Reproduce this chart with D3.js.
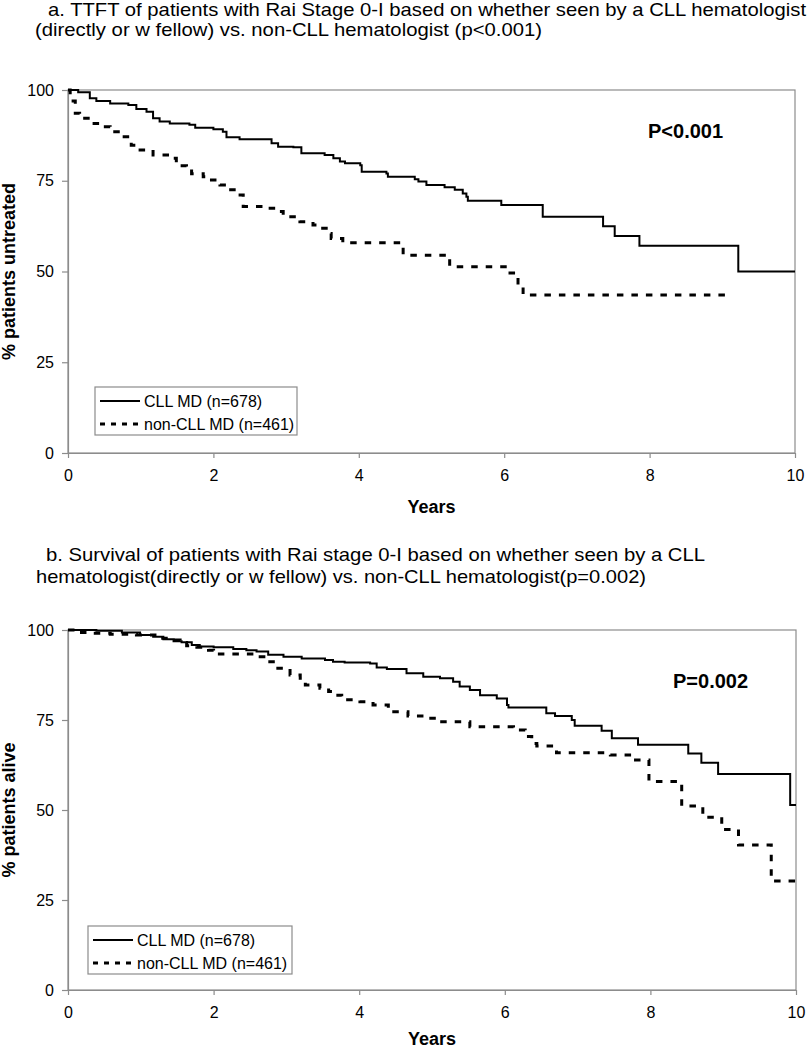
<!DOCTYPE html>
<html>
<head>
<meta charset="utf-8">
<script src="https://cdn.jsdelivr.net/npm/d3@7"></script>
<style>
  body { margin: 0; background: #fff; }
  svg { display: block; font-family: "Liberation Sans", Arial, sans-serif; }
</style>
</head>
<body>
<svg id="chart" width="810" height="1050"></svg>
<script>
// panel a: time to first treatment
const ttftCllTime = [0, 0.14, 0.3, 0.39, 0.58, 0.83, 0.94, 1.08, 1.17, 1.26, 1.4, 1.67, 1.75, 2.0, 2.13, 2.18, 2.36, 2.8, 2.89, 3.1, 3.21, 3.53, 3.65, 3.74, 3.81, 4.02, 4.04, 4.38, 4.4, 4.77, 4.82, 4.93, 5.18, 5.32, 5.43, 5.48, 5.5, 5.96, 6.53, 7.36, 7.52, 7.86, 9.22, 10];
const ttftCllValue = [100, 99.4, 97.7, 97.0, 96.3, 95.9, 94.8, 94.0, 92.2, 91.3, 90.8, 90.4, 89.6, 89.2, 88.5, 87.0, 86.4, 85.3, 84.4, 84.2, 82.6, 82.1, 81.2, 80.3, 79.8, 79.3, 77.5, 77.0, 76.1, 75.4, 74.8, 73.8, 73.2, 72.5, 71.5, 70.6, 69.5, 68.3, 65.1, 62.5, 59.8, 57.1, 50.0, 50.0];
const ttftNonTime = [0, 0.03, 0.1, 0.16, 0.3, 0.44, 0.58, 0.74, 0.87, 0.94, 1.17, 1.45, 1.49, 1.63, 1.7, 1.86, 1.95, 2.09, 2.18, 2.32, 2.41, 2.73, 2.87, 2.96, 3.19, 3.37, 3.46, 3.58, 3.62, 3.78, 4.61, 5.25, 6.08, 6.19, 6.26, 9.1];
const ttftNonValue = [100, 97.0, 93.6, 92.2, 90.8, 89.9, 88.5, 87.1, 84.8, 83.5, 82.1, 81.2, 79.1, 78.9, 76.9, 76.1, 75.2, 73.8, 72.5, 71.1, 67.9, 67.4, 66.5, 65.1, 63.7, 62.8, 61.9, 60.5, 59.1, 57.9, 54.5, 51.3, 49.6, 46.3, 43.5, 43.5];

// panel b: overall survival
const survCllTime = [0, 0.39, 0.74, 0.99, 1.17, 1.31, 1.45, 1.56, 1.7, 1.81, 2.0, 2.27, 2.45, 2.59, 2.75, 2.96, 3.21, 3.53, 3.64, 3.8, 4.15, 4.24, 4.38, 4.65, 4.88, 5.11, 5.29, 5.38, 5.52, 5.66, 5.89, 6.03, 6.05, 6.57, 6.69, 6.92, 6.96, 7.33, 7.47, 7.83, 8.52, 8.7, 8.93, 9.92, 10];
const survCllValue = [100, 99.8, 99.3, 98.6, 98.1, 97.4, 96.9, 96.6, 95.8, 95.4, 95.2, 94.7, 94.4, 94.0, 93.1, 92.6, 92.1, 91.7, 91.2, 91.0, 90.7, 89.6, 89.2, 88.0, 87.0, 86.6, 85.6, 84.3, 83.3, 81.9, 81.0, 79.2, 78.5, 76.9, 76.1, 75.0, 73.4, 72.0, 69.9, 68.1, 65.7, 63.1, 60.0, 51.4, 51.4];
const survNonTime = [0, 0.1, 0.26, 0.58, 0.94, 1.22, 1.4, 1.54, 1.63, 1.77, 1.93, 2.0, 2.64, 2.73, 2.82, 3.05, 3.19, 3.26, 3.46, 3.58, 3.64, 3.76, 4.01, 4.19, 4.4, 4.67, 4.95, 5.11, 5.52, 6.12, 6.28, 6.37, 6.44, 6.71, 7.45, 7.77, 7.98, 8.43, 8.72, 8.98, 9.21, 9.66, 10];
const survNonValue = [100, 99.3, 99.1, 98.8, 98.6, 97.7, 97.2, 96.5, 95.6, 95.2, 94.4, 93.3, 92.6, 91.2, 89.4, 87.5, 86.6, 84.7, 83.8, 82.9, 81.9, 80.6, 80.1, 79.2, 77.3, 76.1, 75.5, 74.5, 73.1, 72.2, 70.4, 68.5, 67.8, 65.9, 65.3, 63.9, 57.9, 51.1, 48.0, 44.6, 40.3, 30.3, 30.3];

const xTicks = [0, 2, 4, 6, 8, 10];
const yTicks = [0, 25, 50, 75, 100];
const legendLabels = ["CLL MD (n=678)", "non-CLL MD (n=461)"];

const svg = d3.select("#chart");

function drawPanel(p) {
    const x = d3.scaleLinear().domain([0, 10]).range([p.left, p.right]);
    const y = d3.scaleLinear().domain([0, 100]).range([p.bottom, p.top]);

    const g = svg.append("g");

    // title lines, stretched to the width they take in the original
    p.title.forEach(t => {
        g.append("text")
            .attr("x", t.x)
            .attr("y", t.y)
            .attr("font-size", "18.5px")
            .attr("fill", "#000")
            .attr("textLength", t.w)
            .attr("lengthAdjust", "spacingAndGlyphs")
            .text(t.text);
    });

    // plot area border
    g.append("rect")
        .attr("x", p.left)
        .attr("y", p.top)
        .attr("width", p.right - p.left)
        .attr("height", p.bottom - p.top)
        .attr("fill", "none")
        .attr("stroke", "#8c8c8c")
        .attr("stroke-width", 1.2);

    const xAxis = g.append("g")
        .attr("transform", `translate(0,${p.bottom})`)
        .call(d3.axisBottom(x).tickValues(xTicks).tickSize(5).tickPadding(12).tickSizeOuter(0));
    const yAxis = g.append("g")
        .attr("transform", `translate(${p.left},0)`)
        .call(d3.axisLeft(y).tickValues(yTicks).tickSize(6).tickPadding(8).tickSizeOuter(0));
    [xAxis, yAxis].forEach(a => {
        a.selectAll("path, line").attr("stroke", "#8c8c8c").attr("stroke-width", 1.2);
        a.selectAll("text").attr("font-size", "16px").attr("fill", "#000")
            .attr("font-family", "Liberation Sans, Arial, sans-serif");
    });

    const line = d3.line()
        .x(d => x(d[0]))
        .y(d => y(d[1]))
        .curve(d3.curveStepAfter);

    g.append("path")
        .datum(p.nonTime.map((t, i) => [t, p.nonValue[i]]))
        .attr("d", line)
        .attr("fill", "none")
        .attr("stroke", "#000")
        .attr("stroke-width", 3)
        .attr("stroke-dasharray", "6.5,8");

    g.append("path")
        .datum(p.cllTime.map((t, i) => [t, p.cllValue[i]]))
        .attr("d", line)
        .attr("fill", "none")
        .attr("stroke", "#000")
        .attr("stroke-width", 2);

    // p value
    g.append("text")
        .attr("x", p.pX)
        .attr("y", p.pY)
        .attr("font-size", "20px")
        .attr("font-weight", "bold")
        .text(p.pText);

    // axis titles
    g.append("text")
        .attr("x", (p.left + p.right) / 2)
        .attr("y", p.yearsY)
        .attr("text-anchor", "middle")
        .attr("font-size", "18px")
        .attr("font-weight", "bold")
        .text("Years");

    g.append("text")
        .attr("transform", `translate(15,${(p.top + p.bottom) / 2}) rotate(-90)`)
        .attr("text-anchor", "middle")
        .attr("font-size", "18px")
        .attr("font-weight", "bold")
        .text(p.yLabel);

    // legend
    const lg = g.append("g").attr("transform", `translate(${p.legX},${p.legY})`);
    lg.append("rect")
        .attr("width", p.legW)
        .attr("height", 48)
        .attr("fill", "#fff")
        .attr("stroke", "#8c8c8c")
        .attr("stroke-width", 1.2);
    legendLabels.forEach((label, i) => {
        const cy = 14 + i * 23;
        lg.append("line")
            .attr("x1", 5).attr("x2", 45)
            .attr("y1", cy).attr("y2", cy)
            .attr("stroke", "#000")
            .attr("stroke-width", i === 0 ? 2 : 3)
            .attr("stroke-dasharray", i === 0 ? null : "5,6");
        lg.append("text")
            .attr("x", 49)
            .attr("y", cy + 6)
            .attr("font-size", "16px")
            .text(label);
    });
}

drawPanel({
    left: 68, right: 795, top: 90, bottom: 453,
    title: [
        { x: 48, y: 16, w: 758, text: "a. TTFT of patients with Rai Stage 0-I based on whether seen by a CLL hematologist" },
        { x: 35, y: 36, w: 507, text: "(directly or w fellow) vs. non-CLL hematologist (p<0.001)" }
    ],
    cllTime: ttftCllTime, cllValue: ttftCllValue,
    nonTime: ttftNonTime, nonValue: ttftNonValue,
    pText: "P<0.001", pX: 648, pY: 138,
    yLabel: "% patients untreated", yearsY: 513,
    legX: 95, legY: 387, legW: 202
});

drawPanel({
    left: 68, right: 796, top: 630, bottom: 990,
    title: [
        { x: 46, y: 561, w: 659, text: "b. Survival of patients with Rai stage 0-I based on whether seen by a CLL" },
        { x: 36, y: 583, w: 610, text: "hematologist(directly or w fellow) vs. non-CLL hematologist(p=0.002)" }
    ],
    cllTime: survCllTime, cllValue: survCllValue,
    nonTime: survNonTime, nonValue: survNonValue,
    pText: "P=0.002", pX: 673, pY: 688,
    yLabel: "% patients alive", yearsY: 1045,
    legX: 88, legY: 926, legW: 204
});
</script>
</body>
</html>
